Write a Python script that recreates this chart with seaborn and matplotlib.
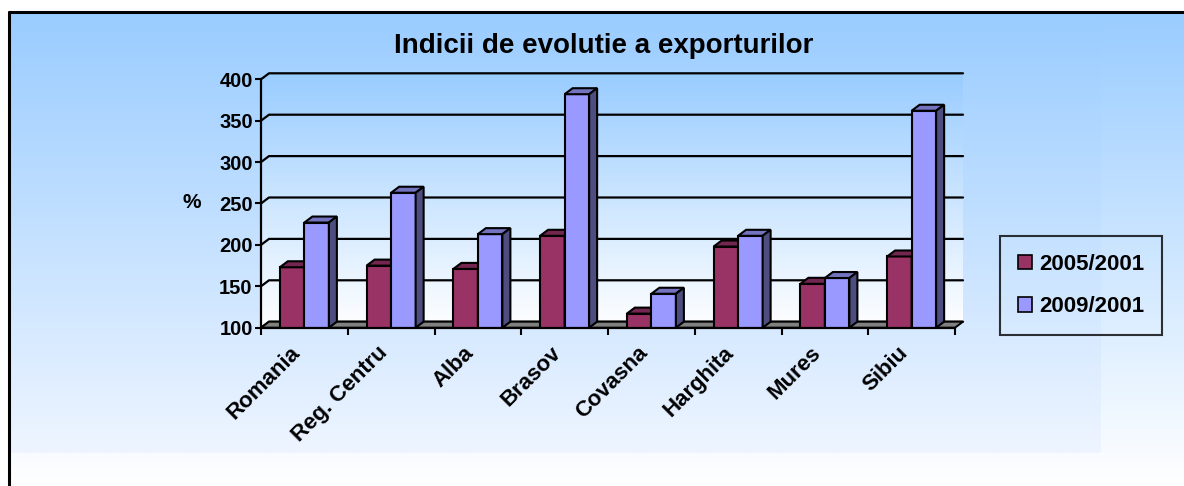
import numpy as np
import pandas as pd
import matplotlib
matplotlib.use('Agg')
import matplotlib.pyplot as plt
import seaborn as sns
from matplotlib.patches import Polygon, Patch
from matplotlib.lines import Line2D
from matplotlib.colors import LinearSegmentedColormap
from matplotlib.transforms import IdentityTransform, ScaledTranslation

# date
regions = ['Romania', 'Reg. Centru', 'Alba', 'Brasov', 'Covasna', 'Harghita', 'Mures', 'Sibiu']
idx_2005 = [173, 175, 171, 211, 117, 198, 153, 186]
idx_2009 = [227, 263, 213, 382, 141, 211, 160, 362]
series = ['2005/2001', '2009/2001']
y_ticks = [100, 150, 200, 250, 300, 350, 400]

front_colors = {'2005/2001': '#993366', '2009/2001': '#9999FF'}
top_colors = {'2005/2001': '#732650', '2009/2001': '#7373C0'}
side_colors = {'2005/2001': '#4D1933', '2009/2001': '#4D4D80'}

df = pd.DataFrame({
    'region': regions * 2,
    'serie': [series[0]] * len(regions) + [series[1]] * len(regions),
    'value': idx_2005 + idx_2009,
})

sns.set_theme(style='white')
plt.rcParams['font.family'] = ['Liberation Sans', 'DejaVu Sans']
plt.rcParams['font.weight'] = 'bold'
plt.rcParams['text.color'] = 'black'
plt.rcParams['axes.labelcolor'] = 'black'
plt.rcParams['xtick.color'] = 'black'
plt.rcParams['ytick.color'] = 'black'

W, H = 1184, 486
DX, DY = 8, 6  # adancimea 3D in pixeli

fig = plt.figure(figsize=(W / 100, H / 100), dpi=100)
fig.patch.set_facecolor('white')

# fundal in coordonate de pixeli
bg = fig.add_axes([0, 0, 1, 1], zorder=-10)
bg.set_xlim(0, W)
bg.set_ylim(H, 0)
bg.axis('off')

grad = np.linspace(0, 1, 256).reshape(-1, 1)
outer_cmap = LinearSegmentedColormap.from_list('outer', ['#99CCFF', '#FFFFFF'])
inner_cmap = LinearSegmentedColormap.from_list('inner', ['#99CCFF', '#EEF5FF'])
bg.imshow(grad, cmap=outer_cmap, extent=(9, W, H, 12), aspect='auto', zorder=0)
bg.imshow(grad, cmap=inner_cmap, extent=(9, 1101, 453, 12), aspect='auto', zorder=1)
bg.add_line(Line2D([9, 9], [H, 12], color='black', lw=2.2, zorder=5))
bg.add_line(Line2D([9, W], [12, 12], color='black', lw=2.2, zorder=5))

# axa principala = planul din fata
ax = fig.add_axes([261 / W, (H - 327.7) / H, (955 - 261) / W, (327.7 - 79.3) / H])
ax.set_facecolor('none')

sns.barplot(data=df, x='region', y='value', hue='serie', palette=front_colors,
            width=0.565, saturation=1, edgecolor='black', linewidth=1.5,
            legend=False, ax=ax)

ax.set_xlim(-0.5, len(regions) - 0.5)
ax.set_ylim(y_ticks[0], y_ticks[-1])


def to_px(pts):
    # coordonate ecran -> coordonatele axei de fundal
    d = ax.transData.transform(pts)
    return np.column_stack([d[:, 0], H - d[:, 1]])


x0, x1 = -0.5, len(regions) - 0.5
y0, y1 = y_ticks[0], y_ticks[-1]
off = np.array([DX, -DY])

# peretii (lateral + spate) cu gradient
fl_b, fl_t, fr_b, fr_t = to_px(np.array([[x0, y0], [x0, y1], [x1, y0], [x1, y1]]))
wall = np.array([fl_b, fl_t, fl_t + off, fr_t + off, fr_b + off, fl_b + off])
wall_img = bg.imshow(grad, cmap=LinearSegmentedColormap.from_list('wall', ['#99CCFF', '#FFFFFF']),
                     extent=(fl_b[0], fr_b[0] + DX, fl_b[1], fl_t[1] - DY), aspect='auto', zorder=2)
wall_img.set_clip_path(Polygon(wall, closed=True, transform=bg.transData))

# linii de grila
for t in y_ticks:
    f, r = to_px(np.array([[x0, t], [x1, t]]))
    bg.add_line(Line2D([f[0], f[0] + DX, r[0] + DX], [f[1], f[1] - DY, r[1] - DY],
                       color='black', lw=1.6, zorder=3))

# podeaua
floor = np.array([fl_b, fr_b, fr_b + off, fl_b + off])
bg.add_patch(Polygon(floor, closed=True, facecolor='#808080', edgecolor='black', lw=1.4, zorder=4))

# fetele 3D ale barelor
bars = list(ax.patches)
n = len(regions)
for i, bar in enumerate(bars):
    s = series[i // n]
    base_z = 3 + 0.2 * (i // n)
    bar.set_zorder(base_z)
    bx, bw, bh = bar.get_x(), bar.get_width(), bar.get_height()
    d = ax.transData.transform(np.array([[bx, y0], [bx + bw, y0], [bx, bh], [bx + bw, bh]]))
    bl, br, tl, tr = d
    o = np.array([DX, DY])
    top = np.array([tl, tr, tr + o, tl + o])
    side = np.array([br, tr, tr + o, br + o])
    for pts, col in ((top, top_colors[s]), (side, side_colors[s])):
        ax.add_patch(Polygon(pts, closed=True, facecolor=col, edgecolor='black', lw=1.5,
                             transform=IdentityTransform(), clip_on=False, zorder=base_z + 0.1))

# axe
for sp in ['top', 'right']:
    ax.spines[sp].set_visible(False)
for sp in ['left', 'bottom']:
    ax.spines[sp].set_color('black')
    ax.spines[sp].set_linewidth(1.6)
    ax.spines[sp].set_zorder(6)

ax.set_yticks(y_ticks)
ax.set_yticklabels([str(t) for t in y_ticks], fontsize=14.5, fontweight='bold', color='black')
ax.tick_params(axis='y', direction='out', length=4, width=1.5, pad=2, left=True, colors='black')

ax.set_xticks(range(n))
ax.set_xticklabels(regions, rotation=45, ha='right', va='center', rotation_mode='anchor',
                   fontsize=16, fontweight='bold', color='black')
ax.tick_params(axis='x', which='major', length=0, pad=16)
shift = ScaledTranslation(-0.07, 0, fig.dpi_scale_trans)
for lab in ax.get_xticklabels():
    lab.set_transform(lab.get_transform() + shift)
ax.set_xticks(np.arange(n + 1) - 0.5, minor=True)
ax.tick_params(axis='x', which='minor', direction='out', length=5, width=1.5, bottom=True,
               colors='black')
ax.set_xlabel('')
ax.set_ylabel('')
ax.grid(False)

fig.text(192 / W, 1 - 203 / H, '%', ha='center', va='center', fontsize=15, fontweight='bold',
         color='black')
fig.text(604 / W, 1 - 46 / H, 'Indicii de evolutie a exporturilor', ha='center', va='center',
         fontsize=20, fontweight='bold', color='black')

handles = [Patch(facecolor=front_colors[s], edgecolor='black', linewidth=1.2) for s in series]
leg = fig.legend(handles, series, loc='upper left', bbox_to_anchor=(1000 / W, 1 - 236 / H),
                 frameon=True, fancybox=False, edgecolor='black', facecolor='none',
                 fontsize=16, handlelength=0.65, handleheight=0.65, handletextpad=0.3,
                 labelspacing=0.95, borderpad=0.8, borderaxespad=0)
leg.get_frame().set_linewidth(1.5)
for txt in leg.get_texts():
    txt.set_fontweight('bold')
    txt.set_color('black')

fig.savefig('out.png', dpi=100)
